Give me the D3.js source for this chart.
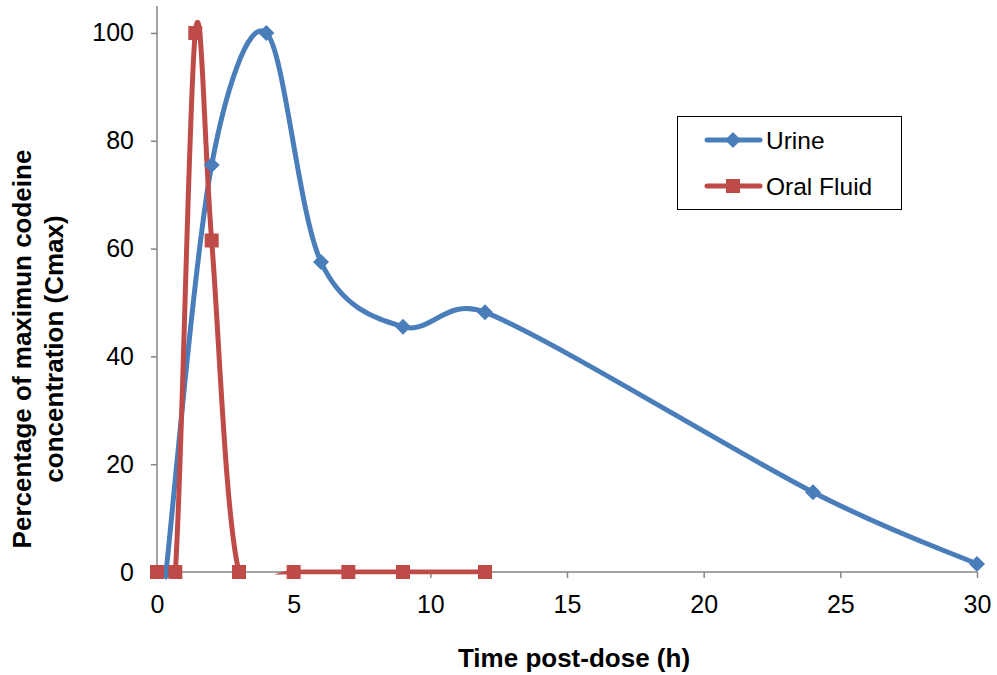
<!DOCTYPE html>
<html>
<head>
<meta charset="utf-8">
<script src="https://cdn.jsdelivr.net/npm/d3@7"></script>
<style>
  body { margin: 0; background: #fff; }
  svg { display: block; font-family: "Liberation Sans", Arial, sans-serif; }
</style>
</head>
<body>
<svg id="chart" width="997" height="675"></svg>
<script>
// Codeine concentration as a percentage of Cmax over time
const urineTime   = [0.33, 2, 4, 6, 9, 12, 24, 30];
const urineValue  = [0, 75.5, 100, 57.5, 45.5, 48.2, 14.8, 1.5];
const oralTime    = [0, 0.67, 1.4, 2, 3, 5, 7, 9, 12];
const oralValue   = [0, 0, 100, 61.5, 0, 0, 0, 0, 0];
const xTicks      = [0, 5, 10, 15, 20, 25, 30];
const yTicks      = [0, 20, 40, 60, 80, 100];
const seriesNames = ["Urine", "Oral Fluid"];

const svg = d3.select("#chart");
const x = d3.scaleLinear().domain([0, 30]).range([157, 977]);
const y = d3.scaleLinear().domain([0, 105]).range([572, 6]);

const axisColor = "#868686";
const blue = "#4a7ebb";
const red = "#be4b48";
const font = "Liberation Sans, Arial, sans-serif";

// Smoothed line: cubic Bezier segments with 1/6 tangent arms,
// each arm limited to half the length of its segment.
function smoothPath(pts) {
  const dist = (a, b) => Math.hypot(b[0] - a[0], b[1] - a[1]);
  let d = `M${pts[0][0]},${pts[0][1]}`;
  for (let i = 0; i < pts.length - 1; i++) {
    const p0 = pts[i - 1] || pts[i];
    const p1 = pts[i];
    const p2 = pts[i + 1];
    const p3 = pts[i + 2] || pts[i + 1];
    const d02 = dist(p0, p2), d12 = dist(p1, p2), d13 = dist(p1, p3);
    const f0 = (d02 / 6 < d12 / 2) ? 1 / 6 : d12 / (2 * d02);
    const f3 = (d13 / 6 < d12 / 2) ? 1 / 6 : d12 / (2 * d13);
    const c1 = [p1[0] + f0 * (p2[0] - p0[0]), p1[1] + f0 * (p2[1] - p0[1])];
    const c2 = [p2[0] - f3 * (p3[0] - p1[0]), p2[1] - f3 * (p3[1] - p1[1])];
    d += `C${c1[0]},${c1[1]} ${c2[0]},${c2[1]} ${p2[0]},${p2[1]}`;
  }
  return d;
}

// plot area clip
svg.append("defs").append("clipPath").attr("id", "plot")
  .append("rect").attr("x", x(0)).attr("y", y(105))
  .attr("width", x(30) - x(0) + 4).attr("height", y(0) - y(105) + 2.5);

// y axis
const yAxis = svg.append("g").attr("transform", `translate(${x(0)},0)`)
  .call(d3.axisLeft(y).tickValues(yTicks).tickSize(6).tickPadding(17).tickFormat(d3.format("d")));
yAxis.select(".domain").attr("stroke", axisColor).attr("stroke-width", 1.5).attr("d", `M0,${y(105)}V${y(0)}`);
yAxis.selectAll(".tick line").attr("stroke", axisColor).attr("stroke-width", 1.5);
yAxis.selectAll(".tick text").attr("font-size", 25).attr("fill", "#000").attr("font-family", font);

// x axis
const xAxis = svg.append("g").attr("transform", `translate(0,${y(0)})`)
  .call(d3.axisBottom(x).tickValues(xTicks).tickSize(6).tickPadding(17).tickFormat(d3.format("d")));
xAxis.select(".domain").attr("stroke", axisColor).attr("stroke-width", 1.5).attr("d", `M${x(0)},0H${x(30)}`);
xAxis.selectAll(".tick line").attr("stroke", axisColor).attr("stroke-width", 1.5);
xAxis.selectAll(".tick text").attr("font-size", 25).attr("fill", "#000").attr("font-family", font);

// axis titles
svg.append("text").attr("x", 574).attr("y", 667).attr("text-anchor", "middle")
  .attr("font-size", 26).attr("font-weight", "bold").text("Time post-dose (h)");
const yt = svg.append("g").attr("transform", "translate(0,349) rotate(-90)");
yt.append("text").attr("x", 0).attr("y", 31).attr("text-anchor", "middle")
  .attr("font-size", 26).attr("font-weight", "bold").text("Percentage of maximun codeine");
yt.append("text").attr("x", 0).attr("y", 63).attr("text-anchor", "middle")
  .attr("font-size", 26).attr("font-weight", "bold").text("concentration (Cmax)");

// series
const urine = urineTime.map((t, i) => [t, urineValue[i]]);
const oral = oralTime.map((t, i) => [t, oralValue[i]]);
const toPx = data => data.map(d => [x(d[0]), y(d[1])]);

const diamond = "M0,-8L8,0L0,8L-8,0Z";
const square = "M-7,-7H7V7H-7Z";

const plot = svg.append("g").attr("clip-path", "url(#plot)");
plot.append("path").attr("d", smoothPath(toPx(urine))).attr("fill", "none")
  .attr("stroke", blue).attr("stroke-width", 5).attr("stroke-linejoin", "round").attr("stroke-linecap", "round");
plot.append("path").attr("d", smoothPath(toPx(oral))).attr("fill", "none")
  .attr("stroke", red).attr("stroke-width", 5).attr("stroke-linejoin", "round").attr("stroke-linecap", "round");

svg.append("g").selectAll("path").data(urine).join("path")
  .attr("transform", d => `translate(${x(d[0])},${y(d[1])})`).attr("d", diamond).attr("fill", blue);
svg.append("g").selectAll("path").data(oral).join("path")
  .attr("transform", d => `translate(${x(d[0])},${y(d[1])})`).attr("d", square).attr("fill", red);

// legend
const lg = svg.append("g");
lg.append("rect").attr("x", 677.5).attr("y", 116.5).attr("width", 224).attr("height", 93)
  .attr("fill", "#fff").attr("stroke", "#000").attr("stroke-width", 1);
const colors = [blue, red];
const symbols = [diamond, square];
seriesNames.forEach((name, i) => {
  const cy = 140 + i * 46;
  lg.append("line").attr("x1", 707).attr("x2", 760).attr("y1", cy).attr("y2", cy)
    .attr("stroke", colors[i]).attr("stroke-width", 5).attr("stroke-linecap", "round");
  lg.append("path").attr("transform", `translate(733,${cy})`).attr("d", symbols[i]).attr("fill", colors[i]);
  lg.append("text").attr("x", 766).attr("y", cy + 8.5).attr("font-size", 24.5).attr("font-family", font).text(name);
});
</script>
</body>
</html>
